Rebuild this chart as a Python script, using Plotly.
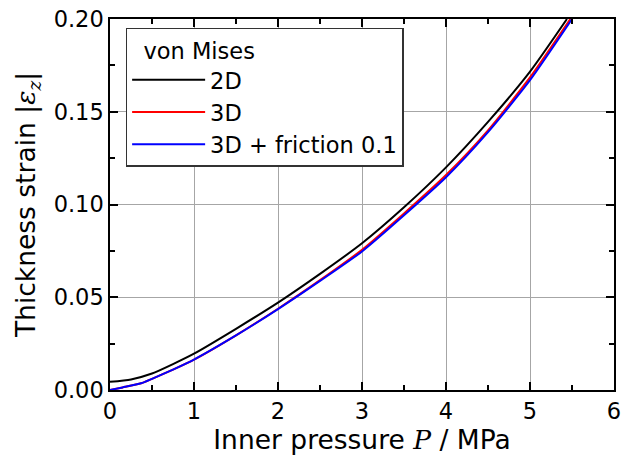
import plotly.graph_objects as go

# Thickness strain vs. inner pressure, von Mises material model
p_2d = [0.0, 0.25, 0.5, 0.75, 1.0, 1.5, 2.0, 2.5, 3.0, 3.5, 4.0, 4.5, 5.0, 5.44]
eps_2d = [0.0044, 0.0057, 0.0089, 0.0140, 0.0196, 0.0330, 0.0471, 0.0626, 0.0791,
          0.0985, 0.1200, 0.1445, 0.1716, 0.2000]

p_3d = [0.0, 0.15, 0.37, 0.5, 0.75, 1.0, 1.5, 2.0, 2.5, 3.0, 3.5, 4.0, 4.5, 5.0, 5.48]
eps_3d = [0.0, 0.0014, 0.0036, 0.0060, 0.0110, 0.0164, 0.0295, 0.0438, 0.0592, 0.0756,
          0.0952, 0.1159, 0.1400, 0.1685, 0.2000]

p_3df = [0.0, 0.15, 0.37, 0.5, 0.75, 1.0, 1.5, 2.0, 2.5, 3.0, 3.5, 4.0, 4.5, 5.0, 5.5]
eps_3df = [0.0, 0.0014, 0.0036, 0.0060, 0.0110, 0.0164, 0.0294, 0.0436, 0.0588, 0.0747,
           0.0942, 0.1147, 0.1390, 0.1670, 0.2000]

series = [
    ("2D", p_2d, eps_2d, "#000000"),
    ("3D", p_3d, eps_3d, "#ff0000"),
    ("3D + friction 0.1", p_3df, eps_3df, "#0000ff"),
]

FONT = "DejaVu Sans, Verdana, sans-serif"
SERIF = "DejaVu Serif, Liberation Serif, serif"
NB = "\u00a0"

fig = go.Figure()
for name, x, y, color in series:
    fig.add_trace(go.Scatter(
        x=x, y=y, name=name, mode="lines",
        line=dict(color=color, width=2, shape="spline", smoothing=0.6),
    ))

axis_common = dict(
    showline=True, linecolor="#000000", linewidth=1.5, mirror="allticks",
    ticks="inside", ticklen=8, tickwidth=1.5, tickcolor="#000000",
    showgrid=True, gridcolor="#a6a6a6", gridwidth=1,
    zeroline=False,
    tickfont=dict(family=FONT, size=22.5, color="#000000"),
)

fig.update_xaxes(
    range=[0, 6], dtick=1, tick0=0,
    minor=dict(dtick=0.5, ticks="inside", ticklen=5, tickwidth=1.5,
               tickcolor="#000000", showgrid=False),
    title=dict(
        text=f"Inner pressure <span style=\"font-family:{SERIF}\"><i>P</i></span> / MPa",
        font=dict(family=FONT, size=26.5, color="#000000"), standoff=4,
    ),
    **axis_common,
)
fig.update_yaxes(
    range=[0, 0.2], dtick=0.05, tick0=0, tickformat=".2f",
    minor=dict(dtick=0.025, ticks="inside", ticklen=5, tickwidth=1.5,
               tickcolor="#000000", showgrid=False),
    title=dict(
        text=(f"{NB}{NB}Thickness strain |<span style=\"font-family:{SERIF}\">"
              f"<i>ε</i><sub><i>z</i></sub></span>|"),
        font=dict(family=FONT, size=26.5, color="#000000"), standoff=10,
    ),
    **axis_common,
)

fig.update_layout(
    width=627, height=459,
    margin=dict(l=110, r=6, t=15, b=69),
    paper_bgcolor="#ffffff", plot_bgcolor="#ffffff",
    font=dict(family=FONT, color="#000000"),
    showlegend=True,
    legend=dict(
        title=dict(text=f"{NB}{NB}von Mises", font=dict(family=FONT, size=22.5)),
        font=dict(family=FONT, size=22.5, color="#000000"),
        x=0.031, y=0.976, xanchor="left", yanchor="top",
        bgcolor="#ffffff", bordercolor="#333333", borderwidth=1.5,
        itemwidth=73, tracegroupgap=0,
    ),
)

fig.write_html("out.html")
